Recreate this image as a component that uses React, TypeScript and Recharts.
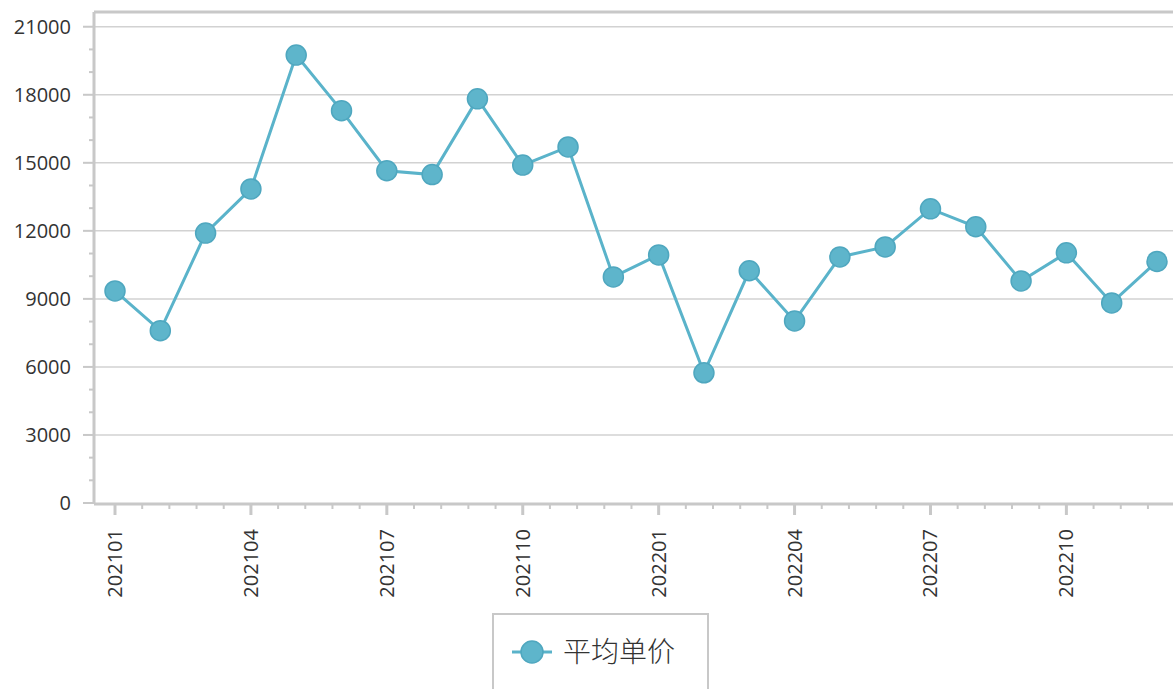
import React from "react";
import { LineChart, Line, XAxis, YAxis, CartesianGrid, ReferenceLine } from "recharts";

const months = [
  "202101", "202102", "202103", "202104", "202105", "202106",
  "202107", "202108", "202109", "202110", "202111", "202112",
  "202201", "202202", "202203", "202204", "202205", "202206",
  "202207", "202208", "202209", "202210", "202211", "202212",
];
const avgPrice = [
  9350, 7600, 11900, 13850, 19750, 17300,
  14650, 14480, 17820, 14900, 15700, 9970,
  10940, 5740, 10240, 8030, 10850, 11290,
  12970, 12180, 9790, 11030, 8820, 10650,
];
const seriesName = "平均单价";
const yTicks = [0, 1000, 2000, 3000, 4000, 5000, 6000, 7000, 8000, 9000, 10000, 11000, 12000, 13000, 14000, 15000, 16000, 17000, 18000, 19000, 20000, 21000];
const yMax = 21650;
// minor x ticks: 5 subdivisions per 3-month major interval (positions in month-index units)
const xMinorTicks = [0.6, 1.2, 1.8, 2.4, 3.6, 4.2, 4.8, 5.4, 6.6, 7.2, 7.8, 8.4, 9.6, 10.2, 10.8, 11.4, 12.6, 13.2, 13.8, 14.4, 15.6, 16.2, 16.8, 17.4, 18.6, 19.2, 19.8, 20.4, 21.6, 22.2, 22.8];

const data = months.map((m, i) => ({ month: m, idx: i, value: avgPrice[i] }));

const AXIS = "#c8c8c8";
const GRID = "#d2d2d2";
const LINE = "#5ab3ca";
const FONT = "'Open Sans', 'DejaVu Sans', sans-serif";

const YTick = (props: any) => {
  const { x, y, payload } = props;
  const major = payload.value % 3000 === 0;
  return (
    <g>
      <line x1={x - (major ? 11 : 5)} x2={x} y1={y} y2={y} stroke={AXIS} strokeWidth={2} />
      {major && (
        <text x={x - 23} y={y} dy={7} textAnchor="end" fontSize={20} fill="#333" fontFamily={FONT}>
          {payload.value}
        </text>
      )}
    </g>
  );
};

const XTick = (props: any) => {
  const { x, y, index, payload } = props;
  const major = index % 3 === 0;
  if (!major) return <g />;
  return (
    <g>
      <line x1={x} x2={x} y1={y - 1} y2={y + 11} stroke={AXIS} strokeWidth={3} />
      <text
        transform={`translate(${x},${y + 25}) rotate(-90)`}
        textAnchor="end"
        dy={7}
        fontSize={20}
        fill="#333"
        fontFamily={FONT}
      >
        {payload.value}
      </text>
    </g>
  );
};

const MinorTick = (props: any) => {
  const { x, y } = props;
  return <line x1={x} x2={x} y1={y} y2={y + 6} stroke={AXIS} strokeWidth={2} />;
};

export default function App() {
  return (
    <div style={{ position: "absolute", left: 0, top: 0, width: 1173, height: 689, overflow: "hidden", background: "#fff" }}>
      <LineChart width={1200} height={689} data={data} margin={{ top: 12, right: 19, left: 0, bottom: 87 }}>
        <CartesianGrid xAxisId="main" vertical={false} stroke={GRID} strokeWidth={1.5} horizontalValues={[3000, 6000, 9000, 12000, 15000, 18000, 21000]} />
        <ReferenceLine xAxisId="main" y={yMax} stroke={AXIS} strokeWidth={3} ifOverflow="extendDomain" />
        <XAxis
          xAxisId={0}
          dataKey="idx"
          type="number"
          domain={[0, months.length - 1]}
          allowDataOverflow
          ticks={xMinorTicks}
          interval={0}
          height={1}
          padding={{ left: 21, right: 24 }}
          tickSize={0}
          tickMargin={0}
          tickLine={false}
          axisLine={false}
          tick={<MinorTick />}
        />
        <XAxis
          xAxisId="main"
          dataKey="month"
          interval={0}
          height={98}
          padding={{ left: 21, right: 24 }}
          tickSize={0}
          tickMargin={0}
          tickLine={false}
          axisLine={{ stroke: AXIS, strokeWidth: 3 }}
          tick={<XTick />}
        />
        <YAxis
          width={94}
          domain={[0, yMax]}
          ticks={yTicks}
          interval={0}
          tickSize={0}
          tickMargin={0}
          tickLine={false}
          axisLine={{ stroke: AXIS, strokeWidth: 3 }}
          tick={<YTick />}
        />
        <Line
          xAxisId="main"
          type="linear"
          dataKey="value"
          name={seriesName}
          stroke={LINE}
          strokeWidth={3}
          dot={{ r: 10, fill: "#5eb5cb", stroke: "#4fa7bf", strokeWidth: 1.5 }}
          activeDot={false}
          isAnimationActive={false}
        />
      </LineChart>
      <div
        style={{
          position: "absolute",
          left: 492,
          top: 613,
          width: 213,
          height: 90,
          border: `2px solid ${AXIS}`,
          background: "#fff",
        }}
      >
        <svg width={213} height={90} style={{ position: "absolute", left: 0, top: 0 }}>
          <line x1={18} x2={58} y1={37} y2={37} stroke={LINE} strokeWidth={3} />
          <circle cx={38} cy={37} r={11} fill="#5eb5cb" stroke="#4fa7bf" strokeWidth={1.5} />
          <text x={69} y={47} fontSize={28} fill="#333" fontFamily="'Noto Sans CJK SC', sans-serif" fontWeight={300}>
            {seriesName}
          </text>
        </svg>
      </div>
    </div>
  );
}
